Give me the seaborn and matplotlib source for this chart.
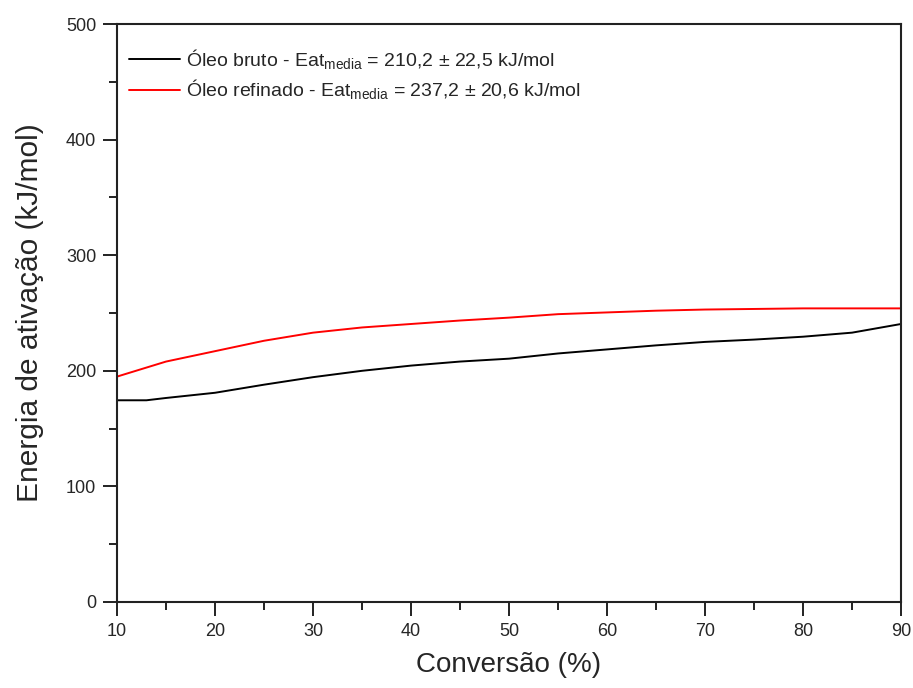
import matplotlib
matplotlib.use("Agg")
import matplotlib.pyplot as plt
from matplotlib.ticker import MultipleLocator
import seaborn as sns
import pandas as pd

# Activation energy versus conversion for crude and refined oil
conv_bruto = [10, 13, 15, 20, 25, 30, 35, 40, 45, 50, 55, 60, 65, 70, 75, 80, 85, 90]
ea_bruto = [174.5, 174.5, 176.5, 181, 188, 194.5, 200, 204.5, 208, 210.5,
            215, 218.5, 222, 225, 227, 229.5, 233, 240.5]

conv_refinado = [10, 15, 20, 25, 30, 35, 40, 45, 50, 55, 60, 65, 70, 75, 80, 85, 90]
ea_refinado = [195, 208, 217, 226, 233, 237.5, 240.5, 243.5, 246, 249,
               250.5, 252, 253, 253.5, 254, 254, 254]

label_bruto = "Óleo bruto - Eat$_{\\mathrm{media}}$ = 210,2 ± 22,5 kJ/mol"
label_refinado = "Óleo refinado - Eat$_{\\mathrm{media}}$ = 237,2 ± 20,6 kJ/mol"

x_ticks = [10, 20, 30, 40, 50, 60, 70, 80, 90]
y_ticks = [0, 100, 200, 300, 400, 500]

df = pd.concat([
    pd.DataFrame({"conv": conv_bruto, "ea": ea_bruto, "serie": label_bruto}),
    pd.DataFrame({"conv": conv_refinado, "ea": ea_refinado, "serie": label_refinado}),
])

sns.set_style("ticks")
plt.rcParams["font.family"] = ["Liberation Sans", "DejaVu Sans"]
plt.rcParams["mathtext.fontset"] = "custom"
plt.rcParams["mathtext.rm"] = "Liberation Sans"

fig = plt.figure(figsize=(9.13, 6.88), dpi=100)
ax = fig.add_axes([0.1282, 0.125, 0.8587, 0.8401])

sns.lineplot(data=df, x="conv", y="ea", hue="serie",
             palette={label_bruto: "#000000", label_refinado: "#ff0000"},
             linewidth=1.4, ax=ax, estimator=None, sort=True)

ax.set_xlim(10, 90)
ax.set_ylim(0, 500)
ax.set_xticks(x_ticks)
ax.set_yticks(y_ticks)
ax.xaxis.set_minor_locator(MultipleLocator(5))
ax.yaxis.set_minor_locator(MultipleLocator(50))
ax.tick_params(which="major", direction="out", length=10, width=1.4,
               labelsize=13, pad=5, color="#222222")
ax.tick_params(which="minor", direction="out", length=5.5, width=1.4,
               color="#222222")

for side in ["top", "right", "left", "bottom"]:
    ax.spines[side].set_visible(True)
    ax.spines[side].set_linewidth(1.5)
    ax.spines[side].set_color("#222222")

ax.set_xlabel("Conversão (%)", fontsize=20, labelpad=9)
ax.set_ylabel("Energia de ativação (kJ/mol)", fontsize=21.5, labelpad=16)

leg = ax.legend(loc="upper left", frameon=False, fontsize=14,
                handlelength=2.6, handletextpad=0.35, labelspacing=0.3,
                bbox_to_anchor=(-0.007, 0.99))
for line in leg.get_lines():
    line.set_linewidth(1.4)

fig.savefig("out.png", dpi=100)
